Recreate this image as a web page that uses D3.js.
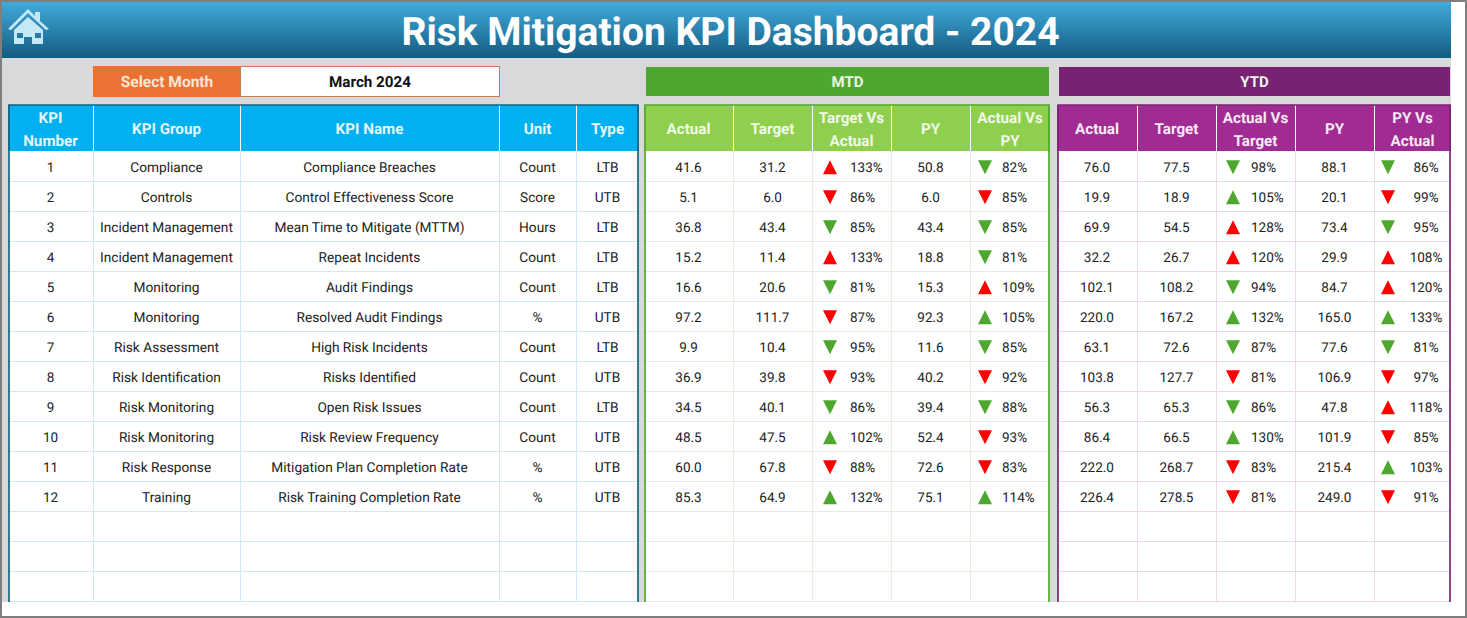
<!DOCTYPE html>
<html>
<head>
<meta charset="utf-8">
<script src="https://cdn.jsdelivr.net/npm/d3@7"></script>
<style>
html, body { margin: 0; padding: 0; background: #fff; overflow: hidden; }
text { font-family: Roboto, sans-serif; text-rendering: geometricPrecision; }
</style>
</head>
<body>
<div id="dash"></div>
<script>
var kpiNumbers = [1,2,3,4,5,6,7,8,9,10,11,12];
var kpiGroups = ["Compliance","Controls","Incident Management","Incident Management","Monitoring","Monitoring","Risk Assessment","Risk Identification","Risk Monitoring","Risk Monitoring","Risk Response","Training"];
var kpiNames = ["Compliance Breaches","Control Effectiveness Score","Mean Time to Mitigate (MTTM)","Repeat Incidents","Audit Findings","Resolved Audit Findings","High Risk Incidents","Risks Identified","Open Risk Issues","Risk Review Frequency","Mitigation Plan Completion Rate","Risk Training Completion Rate"];
var units = ["Count","Score","Hours","Count","Count","%","Count","Count","Count","Count","%","%"];
var types = ["LTB","UTB","LTB","LTB","LTB","UTB","LTB","UTB","LTB","UTB","UTB","UTB"];

var mtdActual = [41.6,5.1,36.8,15.2,16.6,97.2,9.9,36.9,34.5,48.5,60.0,85.3];
var mtdTarget = [31.2,6.0,43.4,11.4,20.6,111.7,10.4,39.8,40.1,47.5,67.8,64.9];
var mtdTargetPct = [133,86,85,133,81,87,95,93,86,102,88,132];
var mtdPY = [50.8,6.0,43.4,18.8,15.3,92.3,11.6,40.2,39.4,52.4,72.6,75.1];
var mtdPYPct = [82,85,85,81,109,105,85,92,88,93,83,114];

var ytdActual = [76.0,19.9,69.9,32.2,102.1,220.0,63.1,103.8,56.3,86.4,222.0,226.4];
var ytdTarget = [77.5,18.9,54.5,26.7,108.2,167.2,72.6,127.7,65.3,66.5,268.7,278.5];
var ytdTargetPct = [98,105,128,120,94,132,87,81,86,130,83,81];
var ytdPY = [88.1,20.1,73.4,29.9,84.7,165.0,77.6,106.9,47.8,101.9,215.4,249.0];
var ytdPYPct = [86,99,95,108,120,133,81,97,118,85,103,91];

var infoHeaders = [["KPI","Number"],["KPI Group"],["KPI Name"],["Unit"],["Type"]];
var mtdHeaders = [["Actual"],["Target"],["Target Vs","Actual"],["PY"],["Actual Vs","PY"]];
var ytdHeaders = [["Actual"],["Target"],["Actual Vs","Target"],["PY"],["PY Vs","Actual"]];
var titleText = "Risk Mitigation KPI Dashboard - 2024";
var selectLabel = "Select Month";
var selectedMonth = "March 2024";
var rowCount = 15;

var W = 1467, H = 618;
var svg = d3.select("#dash").append("svg").attr("width", W).attr("height", H).style("display", "block");

var defs = svg.append("defs");
var grad = defs.append("linearGradient").attr("id", "band").attr("x1", 0).attr("x2", 0).attr("y1", 0).attr("y2", 1);
grad.append("stop").attr("offset", "0%").attr("stop-color", "#41ABDC");
grad.append("stop").attr("offset", "100%").attr("stop-color", "#135B80");

// page
svg.append("rect").attr("x", 2).attr("y", 58).attr("width", 1449).attr("height", 544).attr("fill", "#d9d9d9");
svg.append("rect").attr("x", 2).attr("y", 2).attr("width", 1449).attr("height", 56).attr("fill", "url(#band)");
svg.append("text").attr("x", 730.5).attr("y", 45).attr("text-anchor", "middle")
    .attr("font-size", 39).attr("font-weight", 700).attr("fill", "#fff").text(titleText);

// house icon
var house = svg.append("g").attr("fill", "#c5e8f7");
house.append("path").attr("d", "M8 29 L28 9 L35 16 L35 12 L40 12 L40 21 L49 29 L46 30 L28 13 L11 30 Z");
house.append("path").attr("fill-rule", "evenodd")
    .attr("d", "M14 30 L28 17 L43 30 L43 44 L32 44 L32 37 L24 37 L24 44 L14 44 Z M17 33 L17 38 L23 38 L23 33 Z M35 33 L35 38 L41 38 L41 33 Z");

// selector and section bands
svg.append("rect").attr("x", 93).attr("y", 66).attr("width", 148).attr("height", 31).attr("fill", "#eb7232");
svg.append("rect").attr("x", 240.5).attr("y", 66.5).attr("width", 259).attr("height", 30).attr("fill", "#fff").attr("stroke", "#c9794a");
svg.append("text").attr("x", 167).attr("y", 87).attr("text-anchor", "middle").attr("font-size", 15.5).attr("font-weight", 700).attr("fill", "#fbe5d6").text(selectLabel);
svg.append("text").attr("x", 370).attr("y", 87).attr("text-anchor", "middle").attr("font-size", 15.2).attr("font-weight", 700).attr("fill", "#111").text(selectedMonth);

function band(x0, x1, fill, label) {
    svg.append("rect").attr("x", x0).attr("y", 67).attr("width", x1 - x0).attr("height", 29).attr("fill", fill);
    svg.append("text").attr("x", (x0 + x1) / 2).attr("y", 87).attr("text-anchor", "middle")
        .attr("font-size", 15).attr("font-weight", 700).attr("fill", "#eaf5e4").text(label);
}
band(646, 1049, "#4ea72e", "MTD");
band(1059, 1450, "#772273", "YTD");

var y = d3.scaleBand().domain(d3.range(rowCount)).range([151, 601]);

function fmt(v) { return v.toFixed(1); }

function drawTable(opt) {
    var edges = opt.edges;
    var g = svg.append("g");
    var top = 105, bottom = 602;
    var left = edges[0], right = edges[edges.length - 1];

    g.append("rect").attr("x", left).attr("y", top).attr("width", right - left).attr("height", bottom - top).attr("fill", "#fff");
    g.append("rect").attr("x", left).attr("y", top).attr("width", right - left).attr("height", 46).attr("fill", opt.head);

    // grid
    g.selectAll("line.row").data(d3.range(rowCount)).enter().append("line")
        .attr("x1", left).attr("x2", right)
        .attr("y1", function(d){ return y(d) + y.bandwidth() + 0.5; })
        .attr("y2", function(d){ return y(d) + y.bandwidth() + 0.5; })
        .attr("stroke", opt.grid);
    g.selectAll("line.col").data(edges.slice(1, -1)).enter().append("line")
        .attr("x1", function(d){ return d + 0.5; }).attr("x2", function(d){ return d + 0.5; })
        .attr("y1", 151).attr("y2", bottom).attr("stroke", opt.grid);
    g.selectAll("line.hcol").data(edges.slice(1, -1)).enter().append("line")
        .attr("x1", function(d){ return d + 0.5; }).attr("x2", function(d){ return d + 0.5; })
        .attr("y1", top).attr("y2", 151).attr("stroke", "#fff");

    // header labels
    opt.headers.forEach(function(lines, i){
        var cx = (edges[i] + edges[i + 1]) / 2;
        var t = g.append("text").attr("text-anchor", "middle").attr("font-size", 15.2).attr("font-weight", 700).attr("fill", opt.headText);
        lines.forEach(function(line, j){
            t.append("tspan").attr("x", cx).attr("y", (lines.length == 1 ? 134 : 123 + j * 23)).text(line);
        });
    });

    // body cells
    opt.columns.forEach(function(col, i){
        var cx = (edges[i] + edges[i + 1]) / 2;
        g.selectAll("text.c" + i).data(col.values).enter().append("text")
            .attr("x", col.textX ? col.textX : cx)
            .attr("y", function(d, r){ return y(r) + y.bandwidth() / 2 + 6; })
            .attr("text-anchor", col.anchor || "middle")
            .attr("font-size", col.size || 13.5).attr("fill", "#222")
            .text(function(d){ return col.format ? col.format(d) : d; });
        if (col.arrowX) {
            g.selectAll("path.a" + i).data(col.values).enter().append("path")
                .attr("d", function(d){ return d >= 100 ? "M0 -7 L7 7 L-7 7 Z" : "M-7 -7 L7 -7 L0 7 Z"; })
                .attr("transform", function(d, r){ return "translate(" + col.arrowX + "," + (y(r) + y.bandwidth() / 2 + 1.2) + ")"; })
                .attr("fill", function(d, r){
                    var good = (d >= 100) == (types[r] == "UTB");
                    return good ? "#4ea72e" : "#ff0000";
                });
        }
    });

    // outer border, open at the bottom
    g.append("path").attr("d", "M" + (left + 1) + " " + bottom + " V" + (top + 0) + " H" + (right - 1) + " V" + bottom)
        .attr("fill", "none").attr("stroke", opt.border).attr("stroke-width", 1.7);
}

function pct(v) { return v + "%"; }

drawTable({
    edges: [8, 93, 240, 499, 576, 639],
    head: "#00b0f0", headText: "#e3f6fd", grid: "#cfe8f3", border: "#156082",
    headers: infoHeaders,
    columns: [{values: kpiNumbers}, {values: kpiGroups, size: 13.7}, {values: kpiNames, size: 13.7}, {values: units, size: 13.7}, {values: types, size: 13.7}]
});
drawTable({
    edges: [644, 733, 812, 891, 970, 1050],
    head: "#8ed04e", headText: "#f1f9e8", grid: "#e4eee0", border: "#4ea72e",
    headers: mtdHeaders,
    columns: [
        {values: mtdActual, format: fmt}, {values: mtdTarget, format: fmt},
        {values: mtdTargetPct, format: pct, arrowX: 830, textX: 850, anchor: "start"},
        {values: mtdPY, format: fmt},
        {values: mtdPYPct, format: pct, arrowX: 985, textX: 1002, anchor: "start"}
    ]
});
drawTable({
    edges: [1057, 1137, 1216, 1295, 1374, 1451],
    head: "#a02b93", headText: "#f7e9f5", grid: "#ebd8ea", border: "#7a2572",
    headers: ytdHeaders,
    columns: [
        {values: ytdActual, format: fmt}, {values: ytdTarget, format: fmt},
        {values: ytdTargetPct, format: pct, arrowX: 1233, textX: 1251, anchor: "start"},
        {values: ytdPY, format: fmt},
        {values: ytdPYPct, format: pct, arrowX: 1388, textX: 1426}
    ]
});

// window frame
svg.append("rect").attr("x", 1).attr("y", 1).attr("width", W - 2).attr("height", H - 2)
    .attr("fill", "none").attr("stroke", "#7f7f7f").attr("stroke-width", 2);
</script>
</body>
</html>
